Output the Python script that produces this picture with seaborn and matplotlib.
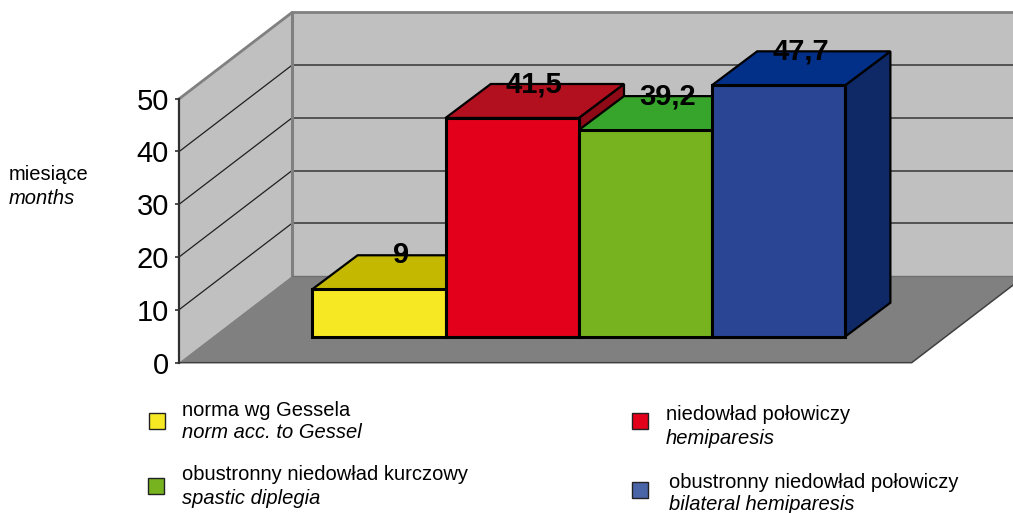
import matplotlib
matplotlib.use("Agg")
import matplotlib.pyplot as plt
import pandas as pd
import seaborn as sns
from matplotlib.patches import Polygon, Rectangle

# Mean age in months for each group
groups = ["norma", "hemiparesis", "diplegia", "bilateral"]
months = [9, 41.5, 39.2, 47.7]
front_colors = ["#F7E824", "#E2001A", "#76B31F", "#2A4593"]
top_colors = ["#C4B900", "#B2101F", "#37A52C", "#023088"]
side_colors = ["#8F8600", "#8E0A16", "#2A7F20", "#0F2967"]
axis_ticks = [0, 10, 20, 30, 40, 50]
axis_top = 50

W, H = 1013, 513
sns.set_theme(style="white")
plt.rcParams["font.family"] = ["Liberation Sans", "DejaVu Sans"]

fig = plt.figure(figsize=(W / 100, H / 100), dpi=100)
ax = fig.add_axes([0, 0, 1, 1])

df = pd.DataFrame({"group": groups, "months": months})
sns.barplot(data=df, x="group", y="months", hue="group", palette=front_colors,
            width=1, dodge=False, legend=False, edgecolor="black",
            linewidth=2.2, saturation=1, ax=ax)

# One bar unit is 133.2 px wide and one month is 5.27 px tall
ax.set_xlim(-378.9 / 133.2, (W - 378.9) / 133.2)
ax.set_ylim((336.7 - H) / 5.27, 336.7 / 5.27)
ax.axis("off")

# Oblique projection of the room and of the bars
room_dx, room_dy = 0.8506, 16.45
bar_dx, bar_dy = 0.34, 6.45
left, right, floor_y = -1.503, 4.0, -4.93
wall = "#C0C0C0"
floor = "#808080"
edge = "#808080"
grid = "#404040"


def project(x, value):
    return x + room_dx, floor_y + value + room_dy


ax.add_patch(Polygon([(left, floor_y), (left, floor_y + axis_top),
                      project(left, axis_top), project(left, 0)],
                     fc=wall, ec="none", zorder=0))
ax.add_patch(Polygon([project(left, 0), project(left, axis_top),
                      project(right, axis_top), project(right, 0)],
                     fc=wall, ec="none", zorder=0))
ax.add_patch(Polygon([(left, floor_y), project(left, 0), project(right, 0),
                      (right, floor_y)], fc=floor, ec="none", zorder=0.5))

# Gridlines run along the side wall and across the back wall
for v in axis_ticks[1:-1]:
    ax.plot([left, project(left, v)[0]], [floor_y + v, project(left, v)[1]],
            color="#202020", lw=0.9, zorder=0.6)
    ax.plot([project(left, v)[0], project(right, v)[0]],
            [project(left, v)[1], project(right, v)[1]],
            color=grid, lw=1.2, zorder=0.6)

# Lighter frame around the walls
ax.plot([left, project(left, axis_top)[0], project(right, axis_top)[0]],
        [floor_y + axis_top, project(left, axis_top)[1], project(right, axis_top)[1]],
        color=edge, lw=2, zorder=0.7)
ax.plot([project(left, 0)[0], project(left, axis_top)[0]],
        [project(left, 0)[1], project(left, axis_top)[1]],
        color=edge, lw=2.2, zorder=0.7)
ax.plot([project(left, 0)[0], project(right, 0)[0]],
        [project(left, 0)[1], project(right, 0)[1]],
        color="#707070", lw=1, zorder=0.7)
ax.plot([left, right, project(right, 0)[0]],
        [floor_y, floor_y, project(right, 0)[1]],
        color=grid, lw=1.1, zorder=0.7)

# Top and side faces are built on the bar tops, back to front
for i, (patch, value) in enumerate(zip(ax.patches[:len(months)], months)):
    x0, x1 = i - 0.5, i + 0.5
    z = 2 + i
    ax.add_patch(Polygon([(x1, 0), (x1, value), (x1 + bar_dx, value + bar_dy),
                          (x1 + bar_dx, bar_dy)], fc=side_colors[i],
                         ec="black", lw=1.6, joinstyle="miter", zorder=z))
    ax.add_patch(Polygon([(x0, value), (x1, value), (x1 + bar_dx, value + bar_dy),
                          (x0 + bar_dx, value + bar_dy)], fc=top_colors[i],
                         ec="black", lw=1.6, joinstyle="miter", zorder=z))
    patch.set_zorder(z + 0.1)
    ax.text(i + bar_dx / 2 - 0.005, value + bar_dy, f"{value}".replace(".", ","),
            ha="center", va="center", fontsize=21, fontweight="bold",
            color="black", zorder=10)

# The value axis stands on the front edge of the side wall
scale = fig.add_axes([178.7 / W, 1 - 362.7 / H, 60 / W, 264 / H])
scale.patch.set_alpha(0)
scale.set_xticks([])
scale.set_ylim(0, axis_top)
scale.set_yticks(axis_ticks)
scale.tick_params(axis="y", left=True, length=3, width=1.2, color="#303030",
                  labelsize=21, pad=4, labelcolor="black")
for name, spine in scale.spines.items():
    spine.set_visible(name == "left")
scale.spines["left"].set_color("#303030")
scale.spines["left"].set_linewidth(1.6)


def label(x, y, text, italic=False):
    fig.text(x / W, 1 - y / H, text, ha="left", va="center", fontsize=14.5,
             style="italic" if italic else "normal", color="black")


label(9, 175, "miesiące")
label(9, 198, "months", italic=True)

# Legend entries: swatch position, plain and italic captions
legend_rows = [
    (149, 413, front_colors[0], 182, 411, "norma wg Gessela", 433, "norm acc. to Gessel"),
    (632, 413, front_colors[1], 666, 415, "niedowład połowiczy", 438, "hemiparesis"),
    (147.5, 478, front_colors[2], 182, 475, "obustronny niedowład kurczowy", 498, "spastic diplegia"),
    (632, 481.5, "#4A64A8", 668.5, 482, "obustronny niedowład połowiczy", 505, "bilateral hemiparesis"),
]
for sx, sy, color, tx, y1, t1, y2, t2 in legend_rows:
    fig.add_artist(Rectangle((sx / W, 1 - (sy + 16) / H), 16 / W, 16 / H,
                             transform=fig.transFigure, fc=color, ec="#222222", lw=1))
    label(tx, y1, t1)
    label(tx, y2, t2, italic=True)

fig.savefig("out.png", dpi=100, facecolor="white")
